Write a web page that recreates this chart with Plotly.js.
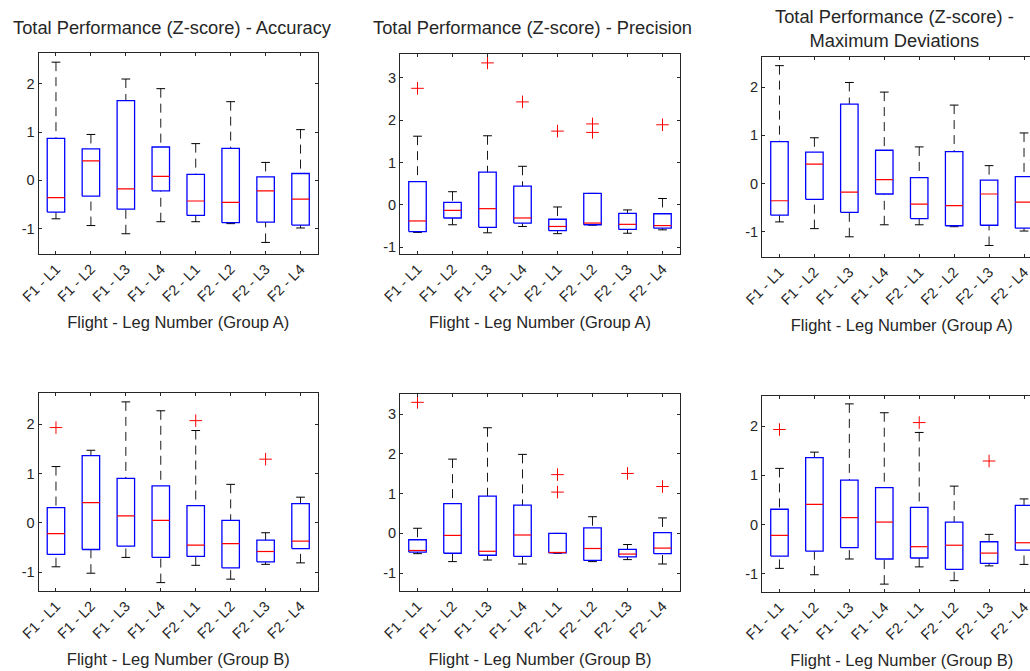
<!DOCTYPE html>
<html>
<head>
<meta charset="utf-8">
<script src="https://cdn.plot.ly/plotly-3.0.1.min.js"></script>
<style>
html,body{margin:0;padding:0;background:#fff;overflow:hidden;}
#chart{width:1050px;height:671px;}
</style>
</head>
<body>
<div id="chart"></div>
<script>
// ---------- DATA ----------
const categories = ["F1 - L1","F1 - L2","F1 - L3","F1 - L4","F2 - L1","F2 - L2","F2 - L3","F2 - L4"];

// Group A - Accuracy
const accA_hi  = [2.45, 0.95, 2.10, 1.90, 0.76, 1.63, 0.37, 1.05];
const accA_q3  = [0.87, 0.65, 1.65, 0.69, 0.12, 0.66, 0.07, 0.14];
const accA_med = [-0.36, 0.40, -0.18, 0.08, -0.43, -0.46, -0.22, -0.39];
const accA_q1  = [-0.66, -0.33, -0.60, -0.22, -0.73, -0.88, -0.87, -0.93];
const accA_lo  = [-0.80, -0.94, -1.11, -0.86, -0.86, -0.90, -1.29, -0.99];
const accA_outCat = [];
const accA_outVal = [];

// Group A - Precision
const preA_hi  = [1.62, 0.31, 1.63, 0.91, -0.05, 0.27, -0.12, 0.15];
const preA_q3  = [0.55, 0.06, 0.77, 0.44, -0.34, 0.27, -0.20, -0.21];
const preA_med = [-0.38, -0.13, -0.09, -0.31, -0.51, -0.43, -0.46, -0.49];
const preA_q1  = [-0.63, -0.31, -0.53, -0.43, -0.61, -0.47, -0.58, -0.55];
const preA_lo  = [-0.65, -0.47, -0.66, -0.51, -0.68, -0.48, -0.67, -0.59];
const preA_outCat = [1, 3, 4, 5, 6, 6, 8];
const preA_outVal = [2.75, 3.35, 2.43, 1.74, 1.91, 1.71, 1.89];

// Group A - Maximum Deviations
const maxA_hi  = [2.45, 0.95, 2.10, 1.90, 0.76, 1.63, 0.37, 1.05];
const maxA_q3  = [0.87, 0.65, 1.65, 0.69, 0.12, 0.66, 0.07, 0.14];
const maxA_med = [-0.36, 0.40, -0.18, 0.08, -0.43, -0.46, -0.22, -0.39];
const maxA_q1  = [-0.66, -0.33, -0.60, -0.22, -0.73, -0.88, -0.87, -0.93];
const maxA_lo  = [-0.80, -0.94, -1.11, -0.86, -0.86, -0.90, -1.29, -0.99];
const maxA_outCat = [];
const maxA_outVal = [];

// Group B - Accuracy
const accB_hi  = [1.14, 1.47, 2.45, 2.27, 1.87, 0.78, -0.20, 0.52];
const accB_q3  = [0.31, 1.36, 0.90, 0.75, 0.35, 0.05, -0.35, 0.39];
const accB_med = [-0.22, 0.41, 0.14, 0.05, -0.45, -0.42, -0.58, -0.37];
const accB_q1  = [-0.64, -0.54, -0.47, -0.70, -0.68, -0.91, -0.79, -0.52];
const accB_lo  = [-0.89, -1.02, -0.70, -1.21, -0.86, -1.14, -0.84, -0.81];
const accB_outCat = [1, 5, 7];
const accB_outVal = [1.93, 2.07, 1.29];

// Group B - Precision
const preB_hi  = [0.13, 1.87, 2.66, 1.99, 0.00, 0.42, -0.28, 0.39];
const preB_q3  = [-0.16, 0.75, 0.94, 0.71, 0.00, 0.14, -0.40, 0.02];
const preB_med = [-0.43, -0.05, -0.45, -0.04, -0.48, -0.38, -0.52, -0.37];
const preB_q1  = [-0.47, -0.50, -0.55, -0.58, -0.49, -0.68, -0.59, -0.51];
const preB_lo  = [-0.51, -0.71, -0.67, -0.77, -0.50, -0.71, -0.66, -0.77];
const preB_outCat = [1, 5, 5, 7, 8];
const preB_outVal = [3.30, 1.48, 1.04, 1.51, 1.18];

// Group B - Maximum Deviations
const maxB_hi  = [1.14, 1.47, 2.45, 2.27, 1.87, 0.78, -0.20, 0.52];
const maxB_q3  = [0.31, 1.36, 0.90, 0.75, 0.35, 0.05, -0.35, 0.39];
const maxB_med = [-0.22, 0.41, 0.14, 0.05, -0.45, -0.42, -0.58, -0.37];
const maxB_q1  = [-0.64, -0.54, -0.47, -0.70, -0.68, -0.91, -0.79, -0.52];
const maxB_lo  = [-0.89, -1.02, -0.70, -1.21, -0.86, -1.14, -0.84, -0.81];
const maxB_outCat = [1, 5, 7];
const maxB_outVal = [1.93, 2.07, 1.29];

const titles = ["Total Performance (Z-score) - Accuracy",
                "Total Performance (Z-score) - Precision",
                "Total Performance (Z-score) -<br>Maximum Deviations"];
const xLabels = ["Flight - Leg Number (Group A)", "Flight - Leg Number (Group B)"];
const yTicks3 = [-1, 0, 1, 2];
const yTicks4 = [-1, 0, 1, 2, 3];
const yTickText3 = ["-1", "0", "1", "2"];
const yTickText4 = ["-1", "0", "1", "2", "3"];

// ---------- BUILD ----------
const W = 1050, H = 671;
const panels = [
  {d:[accA_hi,accA_q3,accA_med,accA_q1,accA_lo,accA_outCat,accA_outVal], px:[38.5,318], py:[53,254], range:[-1.53,2.64], t:yTicks3, tt:yTickText3, row:0},
  {d:[preA_hi,preA_q3,preA_med,preA_q1,preA_lo,preA_outCat,preA_outVal], px:[400,680], py:[54,254], range:[-1.16,3.56], t:yTicks4, tt:yTickText4, row:0},
  {d:[maxA_hi,maxA_q3,maxA_med,maxA_q1,maxA_lo,maxA_outCat,maxA_outVal], px:[762,1041.5], py:[57,257], range:[-1.53,2.63], t:yTicks3, tt:yTickText3, row:0},
  {d:[accB_hi,accB_q3,accB_med,accB_q1,accB_lo,accB_outCat,accB_outVal], px:[38.5,318], py:[393,591], range:[-1.38,2.63], t:yTicks3, tt:yTickText3, row:1},
  {d:[preB_hi,preB_q3,preB_med,preB_q1,preB_lo,preB_outCat,preB_outVal], px:[400,680], py:[394,591], range:[-1.45,3.51], t:yTicks4, tt:yTickText4, row:1},
  {d:[maxB_hi,maxB_q3,maxB_med,maxB_q1,maxB_lo,maxB_outCat,maxB_outVal], px:[762,1041.5], py:[396,592], range:[-1.37,2.61], t:yTicks3, tt:yTickText3, row:1}
];

const FONT = "Liberation Sans, Arial, Helvetica, sans-serif";
const TXT = "#262626";
const traces = [];
const layout = {
  width: W, height: H, margin:{l:0,r:0,t:0,b:0},
  paper_bgcolor:"#fff", plot_bgcolor:"#fff", showlegend:false,
  font:{family:FONT, color:TXT, size:14},
  annotations: []
};

const BW = 0.25, CW = 0.125;
panels.forEach((p, k) => {
  const [hi,q3,med,q1,lo,oc,ov] = p.d;
  const xa = k===0 ? "x" : "x"+(k+1);
  const ya = k===0 ? "y" : "y"+(k+1);
  const bx=[], by=[], mx=[], my=[], wx=[], wy=[], cx=[], cy=[];
  categories.forEach((c, i) => {
    const x = i+1;
    bx.push(x-BW, x+BW, x+BW, x-BW, x-BW, null);
    by.push(q1[i], q1[i], q3[i], q3[i], q1[i], null);
    mx.push(x-BW, x+BW, null); my.push(med[i], med[i], null);
    wx.push(x, x, null, x, x, null); wy.push(hi[i], q3[i], null, lo[i], q1[i], null);
    cx.push(x-CW, x+CW, null, x-CW, x+CW, null); cy.push(hi[i], hi[i], null, lo[i], lo[i], null);
  });
  traces.push({type:"scatter", mode:"lines", x:wx, y:wy, xaxis:xa, yaxis:ya, line:{color:"#1a1a1a", width:1, dash:"9px,6px"}, hoverinfo:"skip"});
  traces.push({type:"scatter", mode:"lines", x:cx, y:cy, xaxis:xa, yaxis:ya, line:{color:"#000", width:1}, hoverinfo:"skip"});
  traces.push({type:"scatter", mode:"lines", x:bx, y:by, xaxis:xa, yaxis:ya, line:{color:"#0000ff", width:1.3}, hoverinfo:"skip"});
  traces.push({type:"scatter", mode:"lines", x:mx, y:my, xaxis:xa, yaxis:ya, line:{color:"#ff0000", width:1.2}, hoverinfo:"skip"});
  if (oc.length) traces.push({type:"scatter", mode:"markers", x:oc, y:ov, xaxis:xa, yaxis:ya,
      marker:{symbol:"cross-thin", size:9, color:"#ff0000", line:{color:"#ff0000", width:1}}, hoverinfo:"skip"});

  const xk = k===0 ? "xaxis" : "xaxis"+(k+1);
  const yk = k===0 ? "yaxis" : "yaxis"+(k+1);
  layout[xk] = {
    domain:[p.px[0]/W, p.px[1]/W], anchor:ya, range:[0.5, 8.5],
    tickmode:"array", tickvals:categories.map((c,i)=>i+1), ticktext:categories,
    tickangle:-45, ticks:"inside", ticklen:3, tickcolor:TXT, tickwidth:1,
    showline:true, linecolor:TXT, linewidth:1, mirror:"ticks",
    showgrid:false, zeroline:false, fixedrange:true,
    tickfont:{size:14.5, color:TXT, family:FONT},
    title:{text:xLabels[p.row], font:{size:16.5, color:TXT, family:FONT}, standoff:12}
  };
  layout[yk] = {
    domain:[1-p.py[1]/H, 1-p.py[0]/H], anchor:xa, range:p.range,
    tickmode:"array", tickvals:p.t, ticktext:p.tt,
    ticks:"inside", ticklen:3, tickcolor:TXT, tickwidth:1,
    showline:true, linecolor:TXT, linewidth:1, mirror:"ticks",
    showgrid:false, zeroline:false, fixedrange:true,
    tickfont:{size:14.5, color:TXT, family:FONT}
  };
});

// subplot titles (top row)
const titleX = [172.5, 532, 894];
const titleY = [27, 27, 29];
titles.forEach((t, i) => {
  layout.annotations.push({text:t, xref:"paper", yref:"paper", x:titleX[i]/W, y:1-titleY[i]/H,
    xanchor:"center", yanchor:"middle", showarrow:false, font:{size:18.3, color:TXT, family:FONT}});
});

Plotly.newPlot("chart", traces, layout, {displayModeBar:false, staticPlot:true});
</script>
</body>
</html>
